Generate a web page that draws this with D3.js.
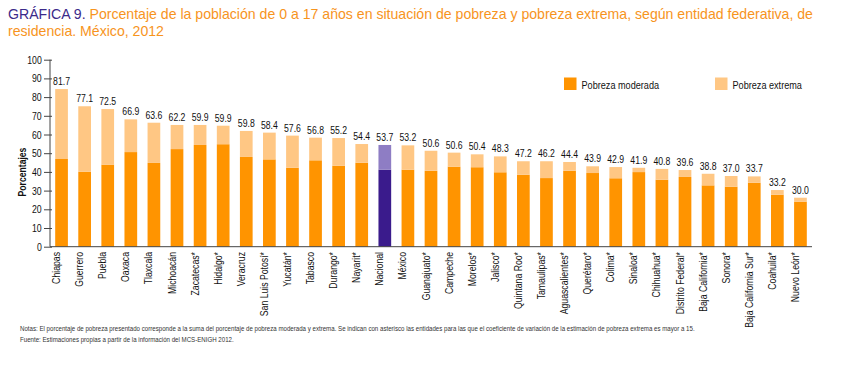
<!DOCTYPE html>
<html><head><meta charset="utf-8">
<script src="https://cdn.jsdelivr.net/npm/d3@7"></script>
<style>body{margin:0;background:#fff} svg{display:block}</style>
</head><body><svg id="c" width="857" height="366"></svg>
<script>
const categories = ["Chiapas","Guerrero","Puebla","Oaxaca","Tlaxcala","Michoacán","Zacatecas*","Hidalgo*","Veracruz","San Luis Potosí*","Yucatán*","Tabasco","Durango*","Nayarit*","Nacional","México","Guanajuato*","Campeche","Morelos*","Jalisco*","Quintana Roo*","Tamaulipas*","Aguascalientes*","Querétaro*","Colima*","Sinaloa*","Chihuahua*","Distrito Federal*","Baja California*","Sonora*","Baja California Sur*","Coahuila*","Nuevo León*"];
const moderada = [46.9,40.1,43.9,50.6,44.8,52.2,54.4,54.8,48.0,46.7,42.2,46.2,43.3,44.9,41.2,41.2,40.6,42.8,42.5,39.8,38.5,36.7,40.6,39.4,36.6,39.9,35.8,37.3,32.8,32.1,34.2,27.8,24.1];
const extrema = [37.4,35.0,29.7,17.5,21.5,12.9,10.7,9.9,13.9,14.3,17.2,12.1,14.8,10.0,13.2,13.0,10.7,7.5,6.9,8.5,7.2,9.0,4.7,3.6,6.0,2.3,5.8,3.7,6.2,5.7,3.4,2.5,2.1];
const totalLabels = ["81.7","77.1","72.5","66.9","63.6","62.2","59.9","59.9","59.8","58.4","57.6","56.8","55.2","54.4","53.7","53.2","50.6","50.6","50.4","48.3","47.2","46.2","44.4","43.9","42.9","41.9","40.8","39.6","38.8","37.0","33.7","33.2","30.0"];
const yTicks = [0,10,20,30,40,50,60,70,80,90,100];
const seriesNames = ["Pobreza moderada","Pobreza extrema"];
const highlight = "Nacional";
const titleLabel = "GRÁFICA 9.";
const titleLine1 = " Porcentaje de la población de 0 a 17 años en situación de pobreza y pobreza extrema, según entidad federativa, de";
const titleLine2 = "residencia. México, 2012";
const notes = ["Notas: El porcentaje de pobreza presentado corresponde a la suma del porcentaje de pobreza moderada y extrema. Se indican con asterisco las entidades para las que el coeficiente de variación de la estimación de pobreza extrema es mayor a 15.",
  "Fuente: Estimaciones propias a partir de la información del MCS-ENIGH 2012."];

const F = "'Liberation Sans',Arial,sans-serif";
const SX = 0.79; // condensed look
const colors = {mod:"#FF9400", ext:"#FFC784", modH:"#3A1B8C", extH:"#8E7DC4"};
const svg = d3.select("#c").style("font-family", F);

const x = d3.scaleBand().domain(categories).range([50, 812]).paddingInner(0.45).paddingOuter(0.225);
const y = d3.scaleLinear().domain([0,100]).range([246.7, 59.7]);

function ctext(parent, tx, ty, rot, sx) {
  return parent.append("g").attr("transform", `translate(${tx},${ty}) rotate(${rot||0}) scale(${sx},1)`).append("text");
}

// title
const tg = svg.append("g").attr("transform", "translate(8,0)");
const t1 = tg.append("text").attr("y", 19).attr("font-size", 15);
t1.append("tspan").attr("fill", "#3B2A8A").text(titleLabel);
t1.append("tspan").attr("fill", "#F7941D").text(titleLine1);
tg.append("text").attr("y", 36).attr("font-size", 15).attr("fill", "#F7941D").text(titleLine2);
const tw = t1.node().getComputedTextLength();
tg.attr("transform", `translate(8,0) scale(${806 / tw},1)`);

// y axis
const yAxis = d3.axisLeft(y).tickValues(yTicks).tickSize(6).tickPadding(4.5).tickFormat(d3.format("d"));
const ga = svg.append("g").attr("transform", "translate(50,0)").call(yAxis);
ga.select(".domain").attr("stroke", "#444").attr("d", `M0,${y(0)}V${y(100)}`);
ga.selectAll(".tick line").attr("stroke", "#444").attr("x1", 2).attr("x2", -6);
ga.selectAll(".tick text").attr("font-size", 11).attr("fill", "#111").attr("font-family", F)
  .attr("transform", `scale(${SX},1)`);

ctext(svg, 25.5, 172, -90, 0.82).attr("text-anchor", "middle").attr("font-size", 10.5)
  .attr("font-weight", "bold").attr("fill", "#111").text("Porcentajes");

// bars
const data = categories.map((c, i) => ({c, m: moderada[i], e: extrema[i], lab: totalLabels[i]}));
const g = svg.append("g");
g.selectAll("rect.m").data(data).join("rect").attr("class", "m")
  .attr("x", d => x(d.c)).attr("width", x.bandwidth())
  .attr("y", d => y(d.m)).attr("height", d => y(0) - y(d.m))
  .attr("fill", d => d.c === highlight ? colors.modH : colors.mod);
g.selectAll("rect.e").data(data).join("rect").attr("class", "e")
  .attr("x", d => x(d.c)).attr("width", x.bandwidth())
  .attr("y", d => y(d.m + d.e)).attr("height", d => y(d.m) - y(d.m + d.e))
  .attr("fill", d => d.c === highlight ? colors.extH : colors.ext);

// value labels
data.forEach(d => {
  ctext(g, x(d.c) + x.bandwidth()/2, y(d.m + d.e) - 4, 0, SX)
    .attr("text-anchor", "middle").attr("font-size", 11).attr("fill", "#111").text(d.lab);
});

// x axis line
svg.append("line").attr("x1", 50).attr("x2", 812).attr("y1", y(0)).attr("y2", y(0))
  .attr("stroke", "#444").attr("stroke-width", 1);

// category labels
categories.forEach(c => {
  ctext(svg, x(c) + x.bandwidth()/2 - 1.5, 252, -90, SX)
    .attr("text-anchor", "end").attr("font-size", 11).attr("fill", "#111").text(c);
});

// legend
const legendX = [564, 715];
seriesNames.forEach((s, i) => {
  svg.append("rect").attr("x", legendX[i]).attr("y", 77.5).attr("width", 12.5).attr("height", 12.5)
    .attr("fill", i === 0 ? colors.mod : colors.ext);
  ctext(svg, legendX[i] + 17.5, 88.5, 0, 0.83).attr("font-size", 11).attr("fill", "#111").text(s);
});

// notes
const ng = svg.append("g");
const n1 = ng.append("text").attr("y", 331).attr("font-size", 7).attr("fill", "#333").text(notes[0]);
ng.append("text").attr("y", 342).attr("font-size", 7).attr("fill", "#333").text(notes[1]);
const nw = n1.node().getComputedTextLength();
ng.attr("transform", `translate(20,0) scale(${675 / nw},1)`);
</script>
</body></html>
